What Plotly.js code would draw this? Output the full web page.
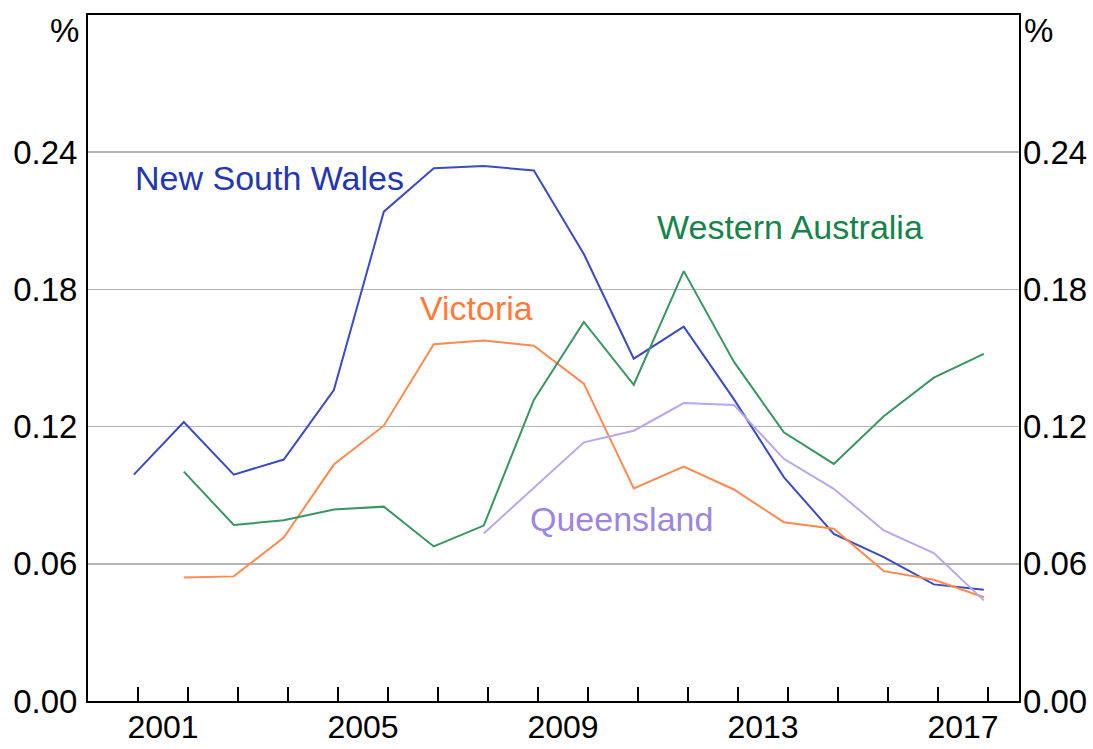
<!DOCTYPE html>
<html>
<head>
<meta charset="utf-8">
<script src="https://cdn.plot.ly/plotly-3.0.1.min.js"></script>
<style>
html,body{margin:0;padding:0;background:#fff;}
#chart{width:1093px;height:749px;}
</style>
</head>
<body>
<div id="chart"></div>
<script>
// Annual observations (plotted near each year end)
const years = [2000,2001,2002,2003,2004,2005,2006,2007,2008,2009,2010,2011,2012,2013,2014,2015,2016,2017];
const nsw = [0.099,0.122,0.099,0.1056,0.136,0.214,0.233,0.234,0.232,0.1955,0.1497,0.1637,0.132,0.0979,0.0731,0.0629,0.051,0.0487];
const vic = [null,0.054,0.0545,0.0715,0.1034,0.1204,0.156,0.1576,0.1554,0.1388,0.093,0.1025,0.0925,0.0782,0.0753,0.0568,0.053,0.0454];
const wa  = [null,0.1003,0.077,0.079,0.0837,0.085,0.0676,0.0767,0.1317,0.1658,0.1383,0.188,0.1484,0.1175,0.1037,0.1245,0.1414,0.1518];
const qld = [null,null,null,null,null,null,null,0.0733,0.0933,0.1131,0.1182,0.1303,0.1295,0.1059,0.0928,0.0746,0.0647,0.044];
const seriesNames = ['New South Wales','Victoria','Western Australia','Queensland'];
const yTicks = [0,0.06,0.12,0.18,0.24];
const yTickText = ['0.00','0.06','0.12','0.18','0.24'];
const labelYears = [2001,2005,2009,2013,2017];

const dates = years.map(y => y + '-12-01');
const colors = {nsw:'#3B4CC0', vic:'#FF8A50', wa:'#3A9562', qld:'#B9A6EC'};
const textColors = {nsw:'#2436B2', vic:'#FF7A3D', wa:'#17834B', qld:'#9D86E0'};

function line(y, c, name){
  return {x: dates, y: y, type:'scatter', mode:'lines', name:name,
          line:{color:c, width:2}, connectgaps:false, showlegend:false, hoverinfo:'skip'};
}
const traces = [
  line(nsw, colors.nsw, seriesNames[0]),
  line(vic, colors.vic, seriesNames[1]),
  line(wa, colors.wa, seriesNames[2]),
  Object.assign(line(qld, colors.qld, seriesNames[3]), {xaxis:'x2'})
];

const xRange = ['2000-01-01','2018-08-15'];
const yRange = [0, 0.30];
const fam = 'Arial, "Liberation Sans", sans-serif';
const font = {family:fam, size:33, color:'#000'};
const xFont = {family:fam, size:32, color:'#000'};
const labelFont = c => ({family:fam, size:34, color:c});

const yearTicks = [];
for (let y = 2001; y <= 2018; y++) yearTicks.push(y + '-01-01');

const layout = {
  width:1093, height:749,
  margin:{l:88, r:74, t:15, b:48, pad:0},
  paper_bgcolor:'#fff', plot_bgcolor:'#fff',
  font: font,
  showlegend:false,
  xaxis:{
    type:'date', range:xRange, tickmode:'array', tickvals:yearTicks,
    ticks:'inside', ticklen:14, tickwidth:1.5, tickcolor:'#000',
    showticklabels:false, showgrid:false, zeroline:false,
    showline:true, linecolor:'#000', linewidth:2, mirror:true,
    anchor:'y', fixedrange:true
  },
  xaxis2:{
    type:'date', range:xRange, overlaying:'x', side:'bottom', anchor:'y',
    tickmode:'array', tickvals:labelYears.map(y => y + '-07-02'),
    ticktext:labelYears.map(String), ticks:'', showgrid:false, zeroline:false,
    showline:false, tickfont:xFont, ticklabelstandoff:4, fixedrange:true
  },
  yaxis:{
    range:yRange, tickmode:'array', tickvals:yTicks, ticktext:yTickText,
    ticks:'', showgrid:true, gridcolor:'#b4b4b4', gridwidth:1.5,
    zeroline:false, showline:true, linecolor:'#000', linewidth:2, mirror:true,
    tickfont:font, ticklabelstandoff:2, fixedrange:true
  },
  yaxis2:{
    range:yRange, overlaying:'y', side:'right', anchor:'x',
    tickmode:'array', tickvals:yTicks, ticktext:yTickText,
    ticks:'', showgrid:false, zeroline:false, showline:false,
    tickfont:font, ticklabelstandoff:3, fixedrange:true
  },
  annotations:[
    {xref:'paper', yref:'paper', x:-0.008, y:0.978, xanchor:'right', yanchor:'middle', text:'%', showarrow:false, font:font},
    {xref:'paper', yref:'paper', x:1.003, y:0.978, xanchor:'left', yanchor:'middle', text:'%', showarrow:false, font:font},
    {xref:'paper', yref:'paper', x:0.1947, y:0.7626, xanchor:'center', yanchor:'middle', text:seriesNames[0], showarrow:false, font:labelFont(textColors.nsw)},
    {xref:'paper', yref:'paper', x:0.417, y:0.5727, xanchor:'center', yanchor:'middle', text:seriesNames[1], showarrow:false, font:labelFont(textColors.vic)},
    {xref:'paper', yref:'paper', x:0.754, y:0.6909, xanchor:'center', yanchor:'middle', text:seriesNames[2], showarrow:false, font:labelFont(textColors.wa)},
    {xref:'paper', yref:'paper', x:0.5732, y:0.2651, xanchor:'center', yanchor:'middle', text:seriesNames[3], showarrow:false, font:labelFont(textColors.qld)}
  ]
};

// right-hand axis carries the same NSW series, drawn invisibly so the axis renders
traces.push({x: dates, y: nsw, type:'scatter', mode:'lines', yaxis:'y2', xaxis:'x',
             line:{color:colors.nsw, width:2}, showlegend:false, hoverinfo:'skip', opacity:0});

Plotly.newPlot('chart', traces, layout, {staticPlot:true, displayModeBar:false});
</script>
</body>
</html>
